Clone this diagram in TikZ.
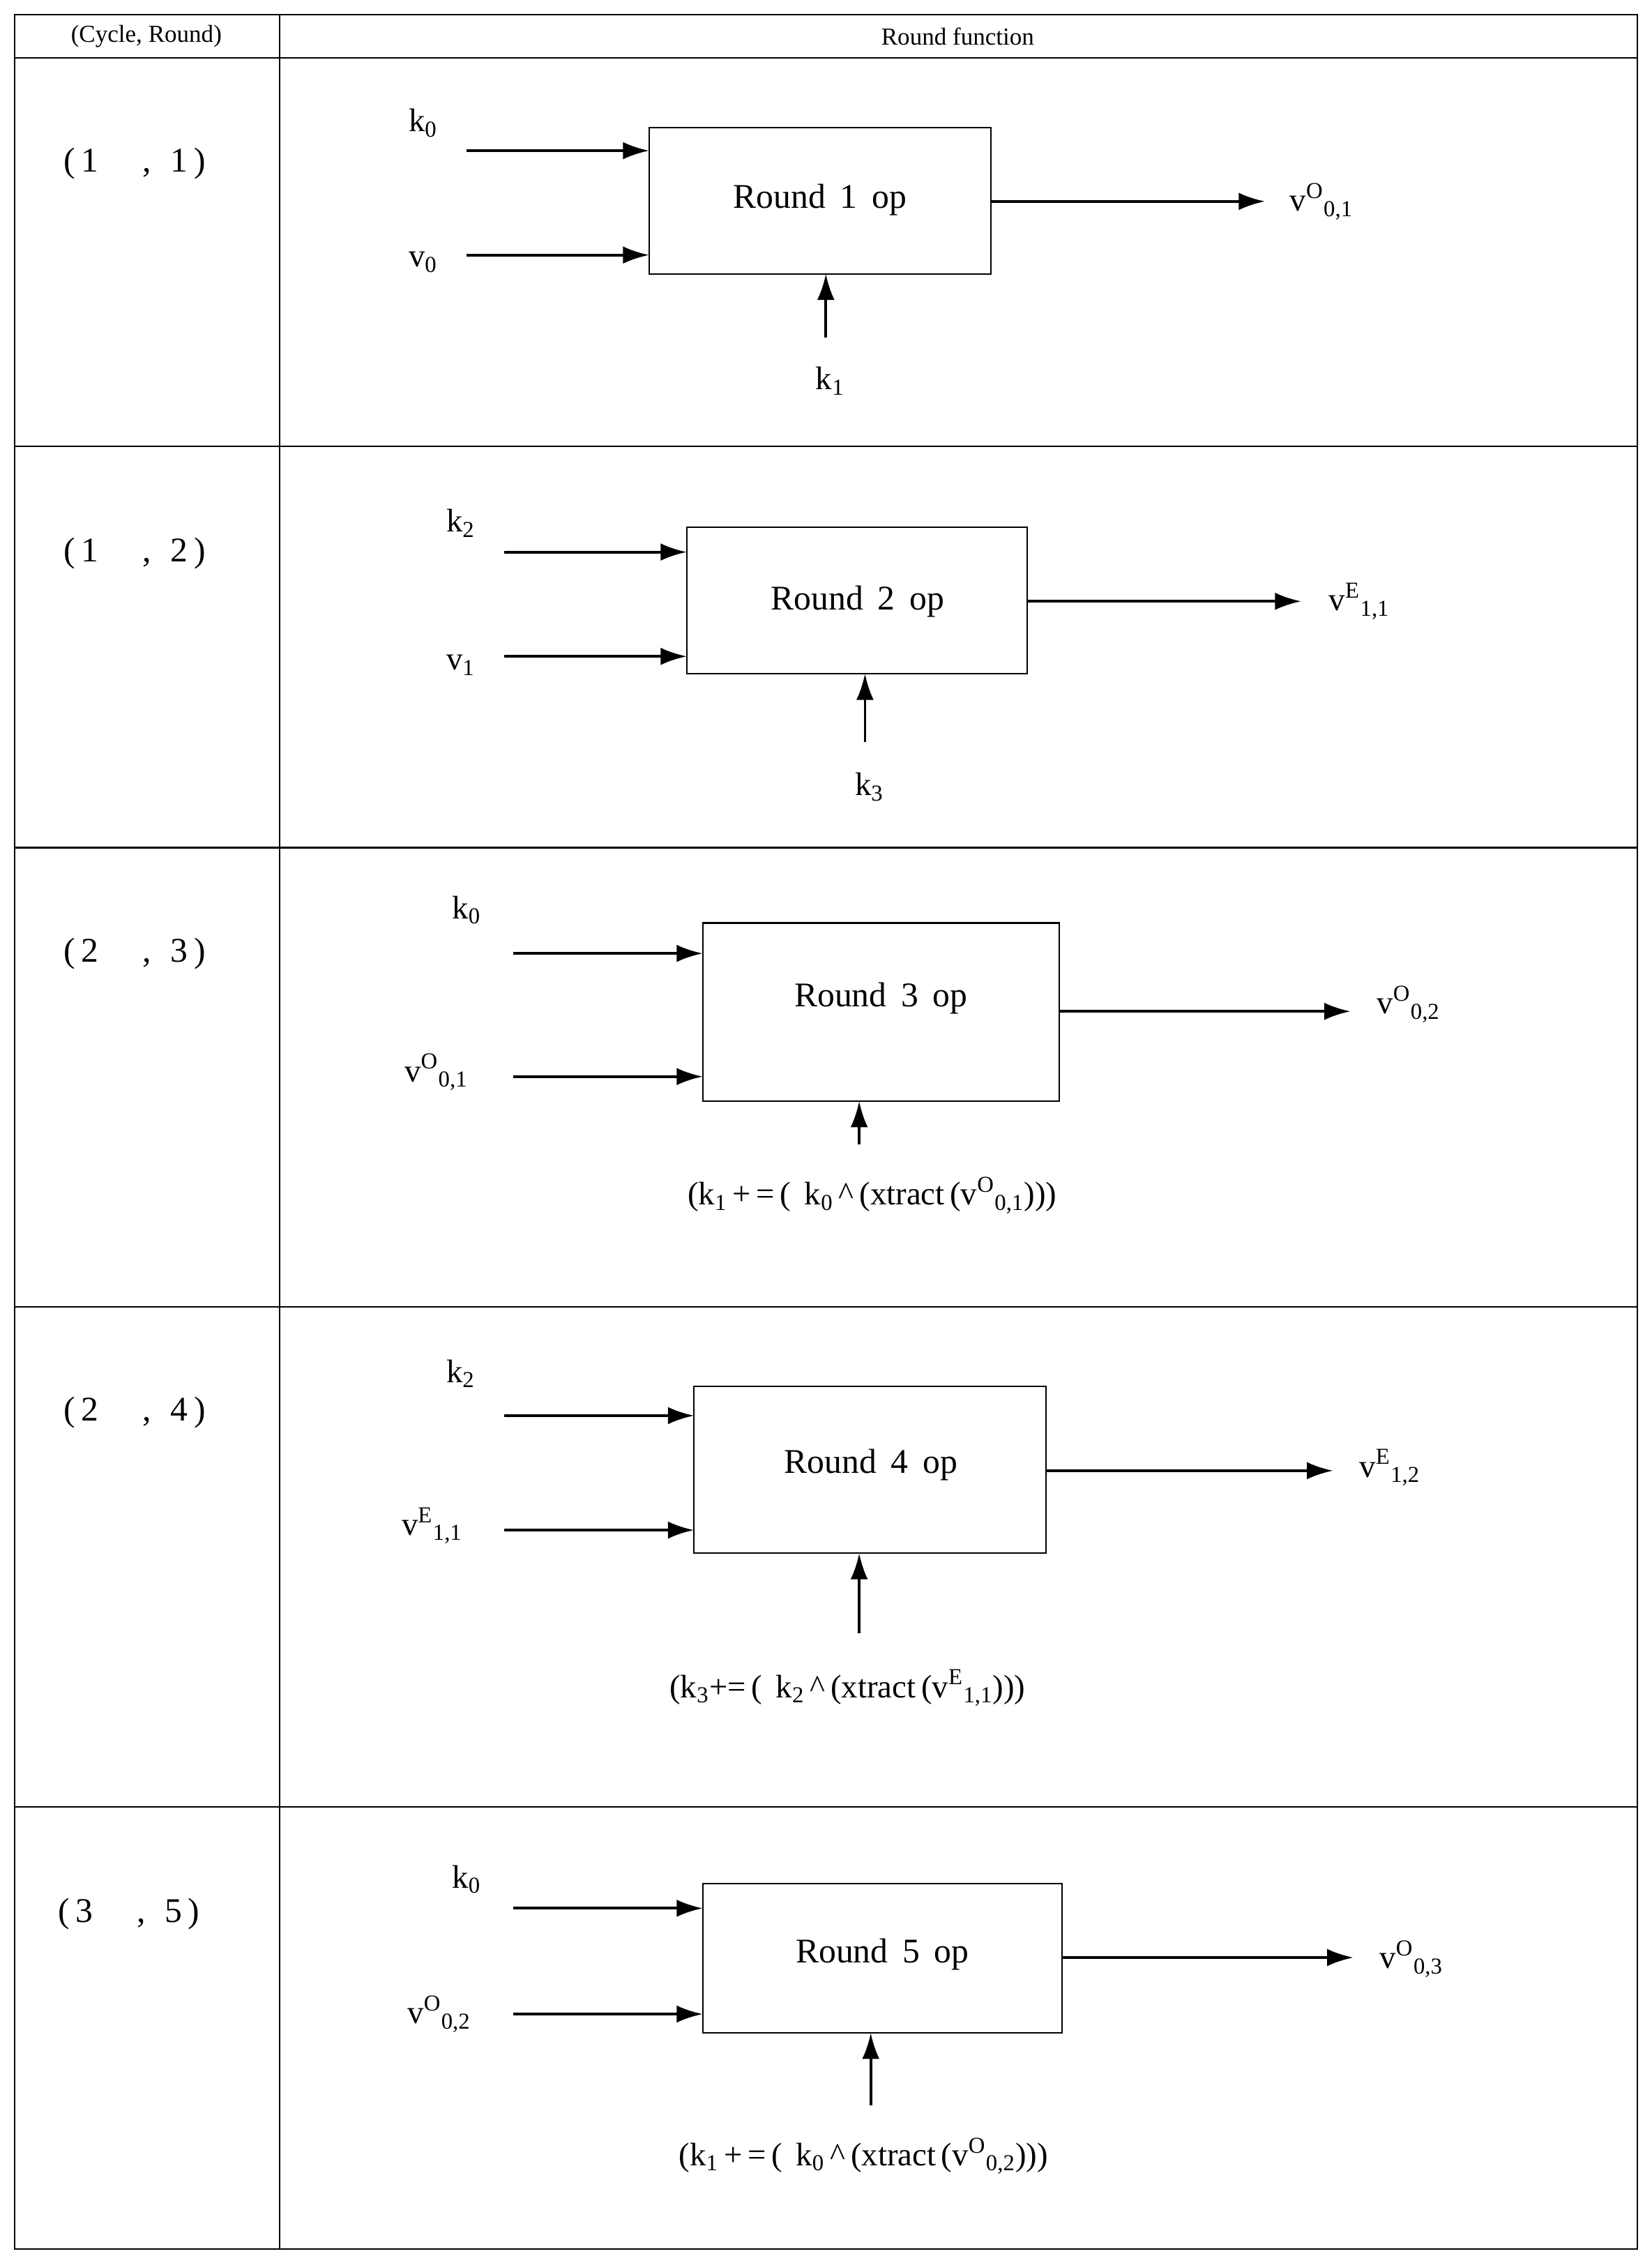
\documentclass[tikz,border=0pt]{standalone}
\usepackage{fontspec}
\setmainfont{Liberation Serif}
\usetikzlibrary{arrows.meta}
\newcommand{\vsx}[2]{v\textsuperscript{#1}\textsubscript{#2}}
\begin{document}
\begin{tikzpicture}[x=0.25mm,y=-0.25mm,
 arr/.style={line width=1.3pt,-{Latex[length=4.5mm,width=3mm]}},
 lbl/.style={font=\fontsize{16}{19}\selectfont,inner sep=0},
 big/.style={font=\fontsize{17}{20}\selectfont,inner sep=0},
 hdr/.style={font=\fontsize{12}{14}\selectfont,inner sep=0},
 grid/.style={line width=0.6pt}]
\useasboundingbox (0,0) rectangle (1140,1557);
\draw[grid] (10,10) rectangle (1130,1552);
\draw[grid] (193,10) -- (193,1552);
\foreach \y in {40,308,902,1247} \draw[grid] (10,\y) -- (1130,\y);
\draw[line width=1.2pt] (10,585) -- (1130,585);
\node[hdr] (h1) at (101,25) {(Cycle, Round)};
\node[hdr] (h2) at (661,25) {Round function};
\node[big] (r1) at (93,113) {(\,1\quad\;,\;\;1\,)};
\node[big] (r2) at (93,382) {(\,1\quad\;,\;\;2\,)};
\node[big] (r3) at (93,658) {(\,2\quad\;,\;\;3\,)};
\node[big] (r4) at (93,975) {(\,2\quad\;,\;\;4\,)};
\node[big] (r5) at (89,1321) {(\,3\quad\;,\;\;5\,)};
% row 1
\draw[line width=0.7pt] (448,88) rectangle (684,189);
\node[big] (b1) at (566,138) {Round\, 1\, op};
\coordinate (a1) at (322,104); \coordinate (a1e) at (448,104);
\coordinate (a2) at (322,176); \coordinate (a2e) at (448,176);
\coordinate (o1) at (684,139); \coordinate (o1e) at (873,139);
\coordinate (u1) at (570,233); \coordinate (u1e) at (570,189);
\draw[arr] (a1) -- (a1e); \draw[arr] (a2) -- (a2e); \draw[arr] (o1) -- (o1e); \draw[arr] (u1) -- (u1e);
\node[lbl] at (292,85) {k\textsubscript{0}};
\node[lbl] at (292,181) {v\textsubscript{0}};
\node[lbl] at (573,263) {k\textsubscript{1}};
\node[lbl,anchor=west] at (890,139) {\vsx{O}{0,1}};
% row 2
\draw[line width=0.7pt] (474,364) rectangle (709,465);
\node[big] (b2) at (592,415) {Round\, 2\, op};
\coordinate (c1) at (348,381); \coordinate (c1e) at (474,381);
\coordinate (c2) at (348,453); \coordinate (c2e) at (474,453);
\coordinate (o2) at (709,415); \coordinate (o2e) at (898,415);
\coordinate (u2) at (597,512); \coordinate (u2e) at (597,465);
\draw[arr] (c1) -- (c1e); \draw[arr] (c2) -- (c2e); \draw[arr] (o2) -- (o2e); \draw[arr] (u2) -- (u2e);
\node[lbl] at (318,361) {k\textsubscript{2}};
\node[lbl] at (318,459) {v\textsubscript{1}};
\node[lbl] at (600,543) {k\textsubscript{3}};
\node[lbl,anchor=west] at (917,415) {\vsx{E}{1,1}};
% row 3
\draw[line width=0.7pt] (485,637) rectangle (731,760);
\node[big] (b3) at (608,689) {Round\, 3\, op};
\coordinate (d1) at (354,658); \coordinate (d1e) at (485,658);
\coordinate (d2) at (354,743); \coordinate (d2e) at (485,743);
\coordinate (o3) at (731,698); \coordinate (o3e) at (932,698);
\coordinate (u3) at (593,790); \coordinate (u3e) at (593,760);
\draw[arr] (d1) -- (d1e); \draw[arr] (d2) -- (d2e); \draw[arr] (o3) -- (o3e); \draw[arr] (u3) -- (u3e);
\node[lbl] at (322,628) {k\textsubscript{0}};
\node[lbl,anchor=west] at (279,740) {\vsx{O}{0,1}};
\node[lbl,anchor=west] at (950,693) {\vsx{O}{0,2}};
\node[lbl] at (602,825) {(k\textsubscript{1}\,+\,=\,(\, k\textsubscript{0}\,\^{}\,(xtract\,(\vsx{O}{0,1})))};
% row 4
\draw[line width=0.7pt] (479,957) rectangle (722,1072);
\node[big] (b4) at (601,1011) {Round\, 4\, op};
\coordinate (e1) at (348,977); \coordinate (e1e) at (479,977);
\coordinate (e2) at (348,1056); \coordinate (e2e) at (479,1056);
\coordinate (o4) at (722,1015); \coordinate (o4e) at (920,1015);
\coordinate (u4) at (593,1127); \coordinate (u4e) at (593,1072);
\draw[arr] (e1) -- (e1e); \draw[arr] (e2) -- (e2e); \draw[arr] (o4) -- (o4e); \draw[arr] (u4) -- (u4e);
\node[lbl] at (318,948) {k\textsubscript{2}};
\node[lbl,anchor=west] at (277,1053) {\vsx{E}{1,1}};
\node[lbl,anchor=west] at (938,1013) {\vsx{E}{1,2}};
\node[lbl] at (585,1165) {(k\textsubscript{3}+=\,(\, k\textsubscript{2}\,\^{}\,(xtract\,(\vsx{E}{1,1})))};
% row 5
\draw[line width=0.7pt] (485,1300) rectangle (733,1403);
\node[big] (b5) at (609,1349) {Round\, 5\, op};
\coordinate (f1) at (354,1317); \coordinate (f1e) at (485,1317);
\coordinate (f2) at (354,1390); \coordinate (f2e) at (485,1390);
\coordinate (o5) at (733,1351); \coordinate (o5e) at (934,1351);
\coordinate (u5) at (601,1453); \coordinate (u5e) at (601,1403);
\draw[arr] (f1) -- (f1e); \draw[arr] (f2) -- (f2e); \draw[arr] (o5) -- (o5e); \draw[arr] (u5) -- (u5e);
\node[lbl] at (322,1297) {k\textsubscript{0}};
\node[lbl,anchor=west] at (281,1390) {\vsx{O}{0,2}};
\node[lbl,anchor=west] at (952,1352) {\vsx{O}{0,3}};
\node[lbl] at (596,1488) {(k\textsubscript{1}\,+\,=\,(\, k\textsubscript{0}\,\^{}\,(xtract\,(\vsx{O}{0,2})))};
\end{tikzpicture}
\end{document}
